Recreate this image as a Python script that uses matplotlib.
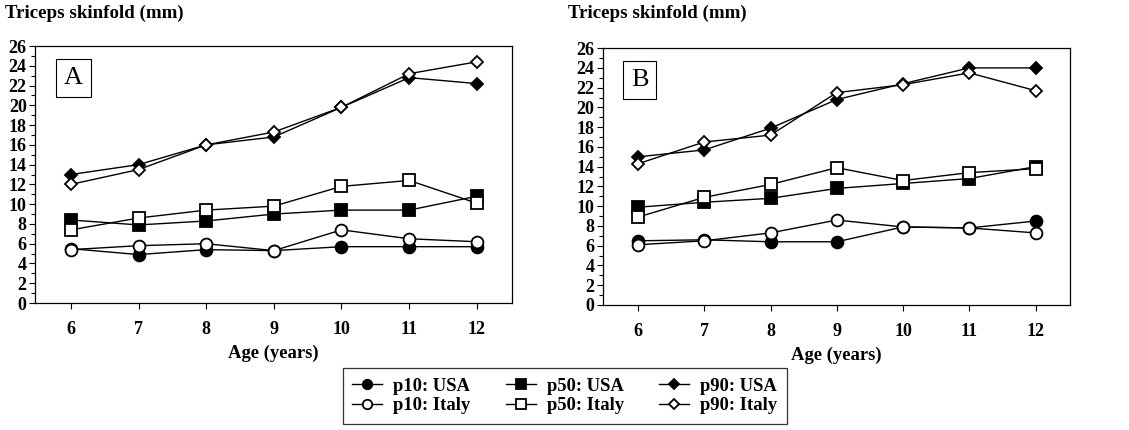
import matplotlib
matplotlib.use("Agg")
import matplotlib.pyplot as plt
from matplotlib.ticker import MultipleLocator

plt.rcParams['font.family'] = ['Liberation Serif', 'DejaVu Serif']
plt.rcParams['font.weight'] = 'bold'

# ---- data ----
ages = [6, 7, 8, 9, 10, 11, 12]

# panel A
a_p10_usa = [5.5, 4.9, 5.4, 5.3, 5.7, 5.7, 5.7]
a_p10_italy = [5.4, 5.8, 6.0, 5.3, 7.4, 6.5, 6.2]
a_p50_usa = [8.4, 7.9, 8.3, 9.0, 9.4, 9.4, 10.8]
a_p50_italy = [7.4, 8.6, 9.4, 9.8, 11.8, 12.4, 10.1]
a_p90_usa = [13.0, 14.0, 16.0, 16.8, 19.8, 22.8, 22.2]
a_p90_italy = [12.0, 13.5, 16.0, 17.3, 19.8, 23.2, 24.4]

# panel B
b_p10_usa = [6.5, 6.6, 6.4, 6.4, 7.9, 7.8, 8.5]
b_p10_italy = [6.1, 6.5, 7.3, 8.6, 7.9, 7.8, 7.3]
b_p50_usa = [9.9, 10.4, 10.8, 11.8, 12.3, 12.8, 14.0]
b_p50_italy = [8.9, 10.9, 12.2, 13.9, 12.6, 13.4, 13.8]
b_p90_usa = [15.0, 15.7, 17.9, 20.8, 22.4, 24.0, 24.0]
b_p90_italy = [14.3, 16.5, 17.2, 21.5, 22.3, 23.5, 21.7]

series_labels = ['p10: USA', 'p10: Italy', 'p50: USA', 'p50: Italy', 'p90: USA', 'p90: Italy']
styles = [('o', 'black', 8.5), ('o', 'white', 8.5),
          ('s', 'black', 8.5), ('s', 'white', 8.5),
          ('D', 'black', 6.0), ('D', 'white', 6.0)]

panels = [
    ('A', [a_p10_usa, a_p10_italy, a_p50_usa, a_p50_italy, a_p90_usa, a_p90_italy]),
    ('B', [b_p10_usa, b_p10_italy, b_p50_usa, b_p50_italy, b_p90_usa, b_p90_italy]),
]

fig = plt.figure(figsize=(11.29, 4.30), dpi=100)
rects = [[0.031, 0.2953, 0.4225, 0.5977], [0.534, 0.2907, 0.4137, 0.5973]]

handles = []
for (label, data), rect in zip(panels, rects):
    ax = fig.add_axes(rect)
    for vals, (m, fc, ms), name in zip(data, styles, series_labels):
        h, = ax.plot(ages, vals, color='black', lw=1.0, marker=m, markersize=ms,
                     markerfacecolor=fc, markeredgecolor='black', markeredgewidth=1.3,
                     label=name)
        if label == 'A':
            handles.append(h)
    ax.set_xlim(5.47, 12.52)
    ax.set_ylim(0, 26)
    ax.set_xticks(ages)
    ax.yaxis.set_major_locator(MultipleLocator(2))
    ax.yaxis.set_minor_locator(MultipleLocator(1))
    ax.tick_params(axis='both', which='both', direction='out', width=0.8,
                   labelsize=13, pad=2)
    ax.tick_params(axis='y', which='major', length=4)
    ax.tick_params(axis='y', which='minor', length=3)
    ax.tick_params(axis='x', length=4, pad=9)
    for sp in ax.spines.values():
        sp.set_linewidth(0.9)
    for t in ax.get_xticklabels() + ax.get_yticklabels():
        t.set_fontweight('bold')
    ax.set_xlabel('Age (years)', fontsize=13.4, fontweight='bold', labelpad=5)
    ax.text(0.06, 0.875, label, transform=ax.transAxes, fontsize=19,
            fontweight='normal', ha='left', va='center',
            bbox=dict(boxstyle='square,pad=0.3', fc='white', ec='black', lw=0.8))

fig.text(0.004, 0.968, 'Triceps skinfold (mm)', fontsize=13.6, fontweight='bold',
         ha='left', va='center')
fig.text(0.503, 0.968, 'Triceps skinfold (mm)', fontsize=13.6, fontweight='bold',
         ha='left', va='center')

# legend fills column by column: p10, p50, p90 in the three columns
leg = fig.legend(handles, series_labels,
                 ncol=3, loc='center', bbox_to_anchor=(0.5004, 0.079), fontsize=13.4,
                 frameon=True, fancybox=False, edgecolor='black', handlelength=1.6,
                 columnspacing=1.9, handletextpad=0.6, borderpad=0.5, labelspacing=0.15,
                 markerscale=0.8)
leg.get_frame().set_linewidth(0.9)
for t in leg.get_texts():
    t.set_fontweight('bold')

fig.savefig('out.png', dpi=100)
